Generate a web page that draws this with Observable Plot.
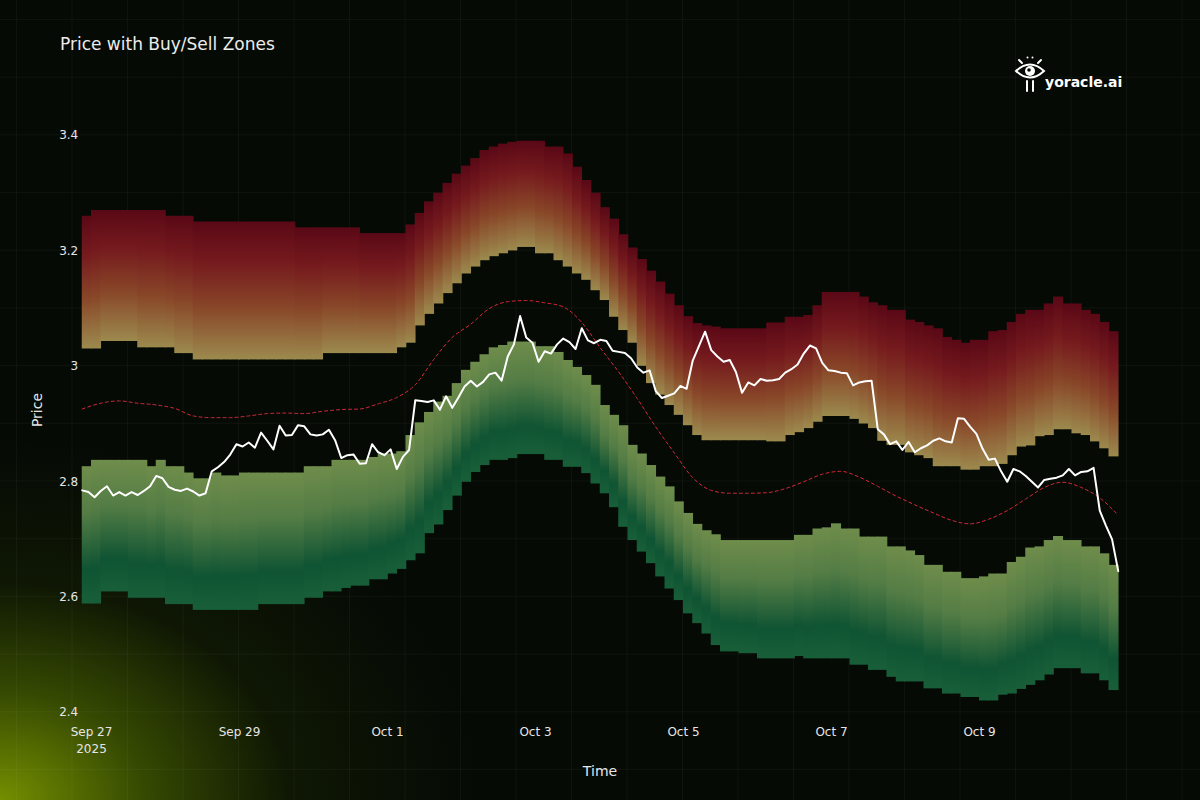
<!DOCTYPE html>
<html>
<head>
<meta charset="utf-8">
<script src="https://cdn.jsdelivr.net/npm/d3@7"></script>
<script src="https://cdn.jsdelivr.net/npm/@observablehq/plot@0.6"></script>
<style>
  html, body { margin: 0; padding: 0; background: #050a05; }
  #wrap {
    position: relative; width: 1200px; height: 800px; overflow: hidden;
    font-family: "DejaVu Sans", sans-serif; color: #e6e6e6;
    background:
      radial-gradient(ellipse 480px 360px at 0px 800px, rgba(122,150,0,0.95) 0%, rgba(84,112,0,0.62) 30%, rgba(38,54,0,0.3) 60%, rgba(5,10,5,0) 100%),
      #050a05;
  }
  #grid {
    position: absolute; left: 0; top: 0; width: 1200px; height: 800px;
    background-image:
      linear-gradient(rgba(255,255,255,0.035) 1px, transparent 1px),
      linear-gradient(90deg, rgba(255,255,255,0.035) 1px, transparent 1px);
    background-size: 55.5px 57.7px;
    background-position: 16px 19px;
  }
  #chart { position: absolute; left: 0; top: 0; }
  .title { position: absolute; left: 60px; top: 36px; font-size: 17px; line-height: 17px; color: #ececec; white-space: nowrap; }
  .ylab { position: absolute; left: 37px; top: 410px; font-size: 14px; line-height: 14px; color: #e6e6e6;
          transform: translate(-50%, -50%) rotate(-90deg); white-space: nowrap; }
  .xlab { position: absolute; left: 600px; top: 771px; font-size: 14px; line-height: 14px; color: #e6e6e6;
          transform: translate(-50%, -50%); white-space: nowrap; }
  .brand { position: absolute; left: 1045px; top: 75px; font-size: 14px; line-height: 14px; font-weight: bold; color: #ffffff; white-space: nowrap; }
  .logo { position: absolute; left: 1014px; top: 54px; }
</style>
</head>
<body>
<div id="wrap">
  <div id="grid"></div>
  <div id="chart"></div>
  <div class="title">Price with Buy/Sell Zones</div>
  <div class="ylab">Price</div>
  <div class="xlab">Time</div>
  <svg class="logo" width="32" height="38" viewBox="0 0 32 38">
    <g stroke="#ffffff" stroke-width="2" fill="none" stroke-linecap="round">
      <path d="M2,17 Q16,4 30,17 Q16,30 2,17 Z"/>
      <line x1="5" y1="6" x2="8" y2="9"/>
      <line x1="27" y1="6" x2="24" y2="9"/>
      <line x1="13" y1="27" x2="13" y2="37"/>
      <line x1="19" y1="27" x2="19" y2="37"/>
    </g>
    <circle cx="13.5" cy="3.5" r="1" fill="#ffffff"/>
    <circle cx="18.5" cy="3.5" r="1" fill="#ffffff"/>
    <circle cx="16" cy="17" r="5" fill="#ffffff"/>
    <circle cx="15" cy="16" r="1.8" fill="#050a05"/>
  </svg>
  <div class="brand">yoracle.ai</div>
</div>
<script>
// ---- Data ----
// Zone columns: 3-hour steps starting 2025-09-26 21:00 UTC
const sellTop = [
  3.26, 3.27, 3.27, 3.27, 3.27, 3.27, 3.27, 3.27, 3.27, 3.26,
  3.26, 3.26, 3.25, 3.25, 3.25, 3.25, 3.25, 3.25, 3.25, 3.25,
  3.25, 3.25, 3.25, 3.24, 3.24, 3.24, 3.24, 3.24, 3.24, 3.24,
  3.23, 3.23, 3.23, 3.23, 3.23, 3.245, 3.265, 3.285, 3.30, 3.317,
  3.333, 3.347, 3.36, 3.374, 3.38, 3.385, 3.388, 3.39, 3.39, 3.39,
  3.38, 3.38, 3.368, 3.345, 3.322, 3.30, 3.275, 3.255, 3.228, 3.205,
  3.185, 3.165, 3.146, 3.125, 3.105, 3.086, 3.074, 3.07, 3.068, 3.065,
  3.065, 3.065, 3.065, 3.065, 3.075, 3.075, 3.085, 3.085, 3.088, 3.105,
  3.128, 3.128, 3.128, 3.128, 3.12, 3.11, 3.105, 3.097, 3.097, 3.08,
  3.076, 3.07, 3.065, 3.05, 3.045, 3.04, 3.045, 3.045, 3.06, 3.062,
  3.076, 3.09, 3.097, 3.097, 3.108, 3.12, 3.108, 3.108, 3.097, 3.09,
  3.076, 3.06
];
const sellBottom = [
  3.03, 3.03, 3.043, 3.043, 3.043, 3.043, 3.032, 3.032, 3.032, 3.032,
  3.022, 3.022, 3.011, 3.011, 3.011, 3.011, 3.011, 3.011, 3.011, 3.011,
  3.011, 3.011, 3.011, 3.011, 3.011, 3.011, 3.022, 3.022, 3.022, 3.022,
  3.022, 3.022, 3.022, 3.022, 3.032, 3.04, 3.07, 3.09, 3.108, 3.126,
  3.143, 3.16, 3.172, 3.183, 3.19, 3.195, 3.2, 3.206, 3.206, 3.195,
  3.195, 3.183, 3.172, 3.16, 3.149, 3.131, 3.114, 3.085, 3.062, 3.04,
  3.0, 2.97, 2.95, 2.932, 2.915, 2.897, 2.88, 2.871, 2.871, 2.871,
  2.871, 2.871, 2.871, 2.871, 2.869, 2.869, 2.88, 2.885, 2.892, 2.903,
  2.913, 2.913, 2.913, 2.908, 2.9, 2.892, 2.87, 2.863, 2.863, 2.85,
  2.845, 2.84, 2.826, 2.826, 2.826, 2.82, 2.82, 2.826, 2.826, 2.83,
  2.845, 2.86, 2.862, 2.878, 2.88, 2.89, 2.89, 2.883, 2.88, 2.869,
  2.857, 2.843
];
const buyTop = [
  2.826, 2.837, 2.837, 2.837, 2.837, 2.837, 2.837, 2.826, 2.837, 2.826,
  2.826, 2.815, 2.805, 2.805, 2.815, 2.81, 2.81, 2.815, 2.815, 2.815,
  2.815, 2.815, 2.815, 2.815, 2.826, 2.826, 2.826, 2.837, 2.837, 2.837,
  2.837, 2.842, 2.848, 2.848, 2.852, 2.88, 2.902, 2.92, 2.938, 2.948,
  2.97, 2.993, 3.007, 3.02, 3.032, 3.036, 3.042, 3.042, 3.042, 3.034,
  3.034, 3.024, 3.01, 2.998, 2.984, 2.967, 2.932, 2.915, 2.897, 2.863,
  2.848, 2.828, 2.808, 2.791, 2.765, 2.745, 2.726, 2.715, 2.708, 2.698,
  2.698, 2.698, 2.698, 2.698, 2.698, 2.698, 2.698, 2.707, 2.707, 2.718,
  2.72, 2.727, 2.718, 2.718, 2.704, 2.704, 2.704, 2.687, 2.687, 2.68,
  2.672, 2.655, 2.655, 2.643, 2.643, 2.632, 2.632, 2.635, 2.64, 2.64,
  2.66, 2.669, 2.685, 2.687, 2.698, 2.705, 2.698, 2.698, 2.687, 2.687,
  2.675, 2.655
];
const buyBottom = [
  2.588, 2.588, 2.609, 2.609, 2.609, 2.598, 2.598, 2.598, 2.598, 2.587,
  2.587, 2.587, 2.577, 2.577, 2.577, 2.577, 2.577, 2.577, 2.577, 2.587,
  2.587, 2.587, 2.587, 2.587, 2.598, 2.598, 2.609, 2.609, 2.615, 2.619,
  2.619, 2.63, 2.63, 2.64, 2.648, 2.663, 2.675, 2.71, 2.725, 2.75,
  2.775, 2.799, 2.816, 2.828, 2.837, 2.837, 2.84, 2.847, 2.847, 2.847,
  2.837, 2.837, 2.825, 2.825, 2.814, 2.796, 2.779, 2.755, 2.721, 2.698,
  2.678, 2.658, 2.635, 2.614, 2.594, 2.571, 2.554, 2.536, 2.516, 2.505,
  2.505, 2.502, 2.502, 2.493, 2.493, 2.493, 2.493, 2.497, 2.493, 2.493,
  2.493, 2.493, 2.493, 2.482, 2.482, 2.473, 2.473, 2.461, 2.453, 2.453,
  2.453, 2.441, 2.441, 2.432, 2.432, 2.426, 2.426, 2.42, 2.42, 2.43,
  2.432, 2.44, 2.447, 2.455, 2.465, 2.476, 2.476, 2.476, 2.467, 2.467,
  2.455, 2.438
];
// Price: 2-hour steps starting 2025-09-26 21:00 UTC
const price = [
  2.785, 2.782, 2.773, 2.784, 2.792, 2.776, 2.782, 2.776, 2.782, 2.777,
  2.784, 2.792, 2.81, 2.806, 2.791, 2.786, 2.784, 2.788, 2.783, 2.776,
  2.78, 2.818, 2.825, 2.834, 2.847, 2.865, 2.861, 2.868, 2.859, 2.885,
  2.871, 2.856, 2.897, 2.880, 2.881, 2.898, 2.896, 2.882, 2.880, 2.882,
  2.890, 2.872, 2.841, 2.846, 2.847, 2.831, 2.832, 2.865, 2.851, 2.846,
  2.856, 2.822, 2.843, 2.855, 2.941, 2.940, 2.938, 2.941, 2.925, 2.948,
  2.928, 2.946, 2.965, 2.975, 2.965, 2.973, 2.986, 2.989, 2.975, 3.017,
  3.038, 3.087, 3.05, 3.041, 3.008, 3.026, 3.022, 3.038, 3.048, 3.042,
  3.03, 3.066, 3.045, 3.040, 3.046, 3.044, 3.027, 3.025, 3.023, 3.014,
  2.998, 2.989, 2.993, 2.957, 2.945, 2.949, 2.953, 2.966, 2.961, 3.01,
  3.035, 3.060, 3.028, 3.017, 3.008, 3.011, 2.99, 2.954, 2.972, 2.967,
  2.978, 2.975, 2.976, 2.978, 2.989, 2.995, 3.003, 3.022, 3.036, 3.031,
  3.006, 2.993, 2.992, 2.989, 2.988, 2.967, 2.972, 2.974, 2.975, 2.891,
  2.882, 2.865, 2.870, 2.855, 2.869, 2.851, 2.858, 2.863, 2.871, 2.875,
  2.870, 2.868, 2.91, 2.909, 2.895, 2.883, 2.857, 2.838, 2.840, 2.818,
  2.80, 2.822, 2.818, 2.81, 2.80, 2.79, 2.803, 2.805, 2.807, 2.811,
  2.822, 2.811, 2.817, 2.818, 2.824, 2.75, 2.724, 2.70, 2.645
];
// Mid (dashed red) line: 6-hour steps starting 2025-09-26 21:00 UTC
const midLine = [
  2.926, 2.936, 2.940, 2.936, 2.933, 2.927, 2.914, 2.911, 2.911, 2.914,
  2.918, 2.919, 2.918, 2.922, 2.925, 2.926, 2.935, 2.946, 2.968, 3.012,
  3.050, 3.073, 3.100, 3.112, 3.114, 3.110, 3.103, 3.076, 3.032, 2.99,
  2.944, 2.895, 2.850, 2.807, 2.785, 2.780, 2.780, 2.781, 2.788, 2.800,
  2.813, 2.818, 2.808, 2.792, 2.775, 2.760, 2.746, 2.733, 2.727, 2.735,
  2.750, 2.770, 2.790, 2.799, 2.790, 2.772, 2.742
];
const xTickDates = ["2025-09-27", "2025-09-29", "2025-10-01", "2025-10-03", "2025-10-05", "2025-10-07", "2025-10-09"];
const xTickLabels = ["Sep 27\n2025", "Sep 29", "Oct 1", "Oct 3", "Oct 5", "Oct 7", "Oct 9"];
const yTicks = [2.4, 2.6, 2.8, 3.0, 3.2, 3.4];
const yTickLabels = ["2.4", "2.6", "2.8", "3", "3.2", "3.4"];

// ---- Build tables ----
const start = new Date(Date.UTC(2025, 8, 26, 21));
const end = d3.utcHour.offset(start, 3 * sellTop.length);
const zones = sellTop.map((st, j) => ({
  t0: d3.utcHour.offset(start, 3 * j),
  t1: d3.utcHour.offset(start, 3 * (j + 1)),
  st, sb: sellBottom[j], bt: buyTop[j], bb: buyBottom[j]
}));
const priceData = price.map((v, i) => ({t: d3.utcHour.offset(start, 2 * i), v}));
const midData = midLine.map((v, k) => ({t: d3.utcHour.offset(start, 6 * k), v}));
const tickDates = xTickDates.map(s => new Date(s + "T00:00:00Z"));
const tickLabelOf = new Map(tickDates.map((d, i) => [+d, xTickLabels[i]]));
const yLabelOf = new Map(yTicks.map((v, i) => [v, yTickLabels[i]]));

const chart = Plot.plot({
  width: 1200,
  height: 800,
  marginLeft: 81.75,
  marginRight: 82.25,
  marginTop: 135,
  marginBottom: 88,
  style: {background: "transparent", color: "#e6e6e6", fontFamily: "DejaVu Sans, sans-serif", fontSize: "12px", overflow: "visible"},
  x: {type: "utc", domain: [start, end]},
  y: {domain: [2.4, 3.4]},
  marks: [
    Plot.rect(zones, {x1: "t0", x2: "t1", y1: "sb", y2: "st", fill: "url(#sellGrad)", insetRight: -0.8}),
    Plot.rect(zones, {x1: "t0", x2: "t1", y1: "bb", y2: "bt", fill: "url(#buyGrad)", insetRight: -0.8}),
    Plot.line(midData, {x: "t", y: "v", stroke: "#d8283a", strokeWidth: 1, strokeDasharray: "3,3", curve: "monotone-x"}),
    Plot.line(priceData, {x: "t", y: "v", stroke: "#ffffff", strokeWidth: 2, strokeLinejoin: "round"}),
    Plot.axisY({ticks: yTicks, tickFormat: v => yLabelOf.get(v), tickSize: 0, tickPadding: 4, label: null, fontSize: 12}),
    Plot.axisX({ticks: tickDates, tickFormat: d => tickLabelOf.get(+d), tickSize: 0, tickPadding: 12, label: null, fontSize: 12, lineHeight: 1.4})
  ]
});

const defs = d3.select(chart).insert("defs", ":first-child");
function grad(id, stops) {
  const g = defs.append("linearGradient").attr("id", id)
    .attr("x1", 0).attr("y1", 0).attr("x2", 0).attr("y2", 1);
  stops.forEach(([o, c]) => g.append("stop").attr("offset", o).attr("stop-color", c));
}
grad("sellGrad", [[0, "#5a0816"], [0.3, "#761b1e"], [0.62, "#884628"], [1, "#9c8a4e"]]);
grad("buyGrad", [[0, "#6f8d4b"], [0.35, "#537c45"], [0.75, "#0f5433"], [1, "#185f39"]]);

document.getElementById("chart").appendChild(chart);
</script>
</body>
</html>
